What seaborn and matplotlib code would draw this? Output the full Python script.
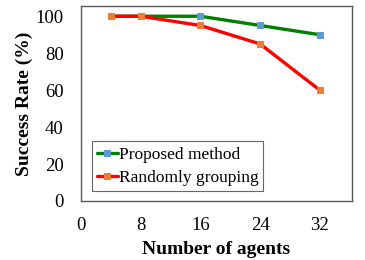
import numpy as np
import pandas as pd
import matplotlib
matplotlib.use("Agg")
import matplotlib.pyplot as plt
import seaborn as sns

agents = [4, 8, 16, 24, 32]
proposed = [100, 100, 100, 95, 90]
randomly = [100, 100, 95, 85, 60]
x_ticks = [0, 8, 16, 24, 32]
y_ticks = [0, 20, 40, 60, 80, 100]

sns.set_style("white")
plt.rcParams['font.family'] = ['Liberation Serif', 'DejaVu Serif']
plt.rcParams['text.color'] = 'black'
plt.rcParams['axes.labelcolor'] = 'black'
plt.rcParams['xtick.color'] = 'black'
plt.rcParams['ytick.color'] = 'black'

fig = plt.figure(figsize=(3.65, 2.6), dpi=100)
ax = fig.add_axes([0.222, 0.227, 0.742, 0.751])

df = pd.DataFrame({"agents": agents, "Proposed method": proposed, "Randomly grouping": randomly})

sns.lineplot(data=df, x="agents", y="Proposed method", ax=ax, color="#008000", linewidth=2.4,
             marker="s", markersize=5, markerfacecolor="#5B9BD5", markeredgecolor="#5B9BD5",
             label="Proposed method")
sns.lineplot(data=df, x="agents", y="Randomly grouping", ax=ax, color="#FF0000", linewidth=2.4,
             marker="s", markersize=5, markerfacecolor="#ED7D31", markeredgecolor="#ED7D31",
             label="Randomly grouping")

ax.set_xlim(0, 36.3)
ax.set_ylim(0, 105.7)
ax.set_xticks(x_ticks)
ax.set_yticks(y_ticks)
ax.tick_params(axis="both", labelsize=13.5, length=0)
ax.tick_params(axis="x", pad=11.5)
ax.tick_params(axis="y", pad=12.5)
ax.set_xlabel("Number of agents", fontsize=14, fontweight="bold", labelpad=5)
ax.set_ylabel("Success Rate (%)", fontsize=14, fontweight="bold", labelpad=2)

for s in ax.spines.values():
    s.set_visible(True)
    s.set_color("#595959")
    s.set_linewidth(1.0)

leg = ax.legend(loc="lower left", bbox_to_anchor=(0.039, 0.051), fontsize=12.5, frameon=True,
                fancybox=False, edgecolor="#404040", handlelength=1.2, handletextpad=0.05,
                borderpad=0.3, labelspacing=0.4, borderaxespad=0)
leg.get_frame().set_linewidth(0.8)

fig.savefig("out.png", dpi=100)
